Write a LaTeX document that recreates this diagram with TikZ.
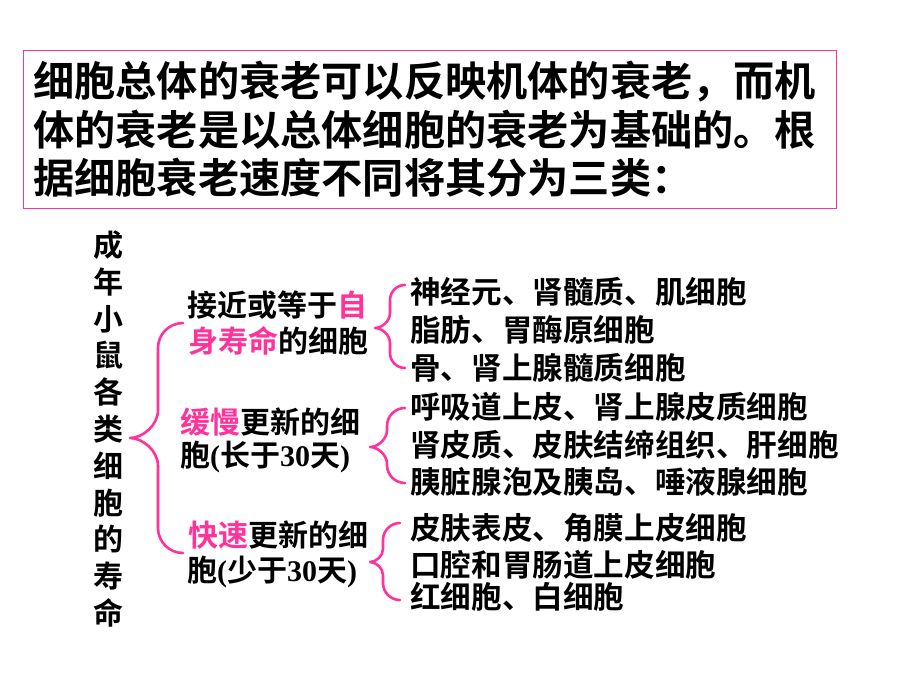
\documentclass[tikz,border=0pt]{standalone}
\usepackage{fontspec}
\newfontfamily\cjk[BoldFont={* Bold}]{Noto Sans CJK SC}
\newfontfamily\ser{Liberation Serif}
\definecolor{pk}{HTML}{FF3399}
\tikzset{
  bigtext/.style={font=\cjk\bfseries\fontsize{41.2}{48}\selectfont, anchor=west, inner sep=0pt},
  midtext/.style={font=\cjk\bfseries\fontsize{30}{36}\selectfont, anchor=west, inner sep=0pt},
  righttext/.style={font=\cjk\bfseries\fontsize{30.6}{36}\selectfont, anchor=west, inner sep=0pt},
  bracestyle/.style={draw=pk, line width=2.6pt, line cap=round, line join=round},
}
\newcommand\mybrace[6]{%
\draw[bracestyle] (#1,#4) .. controls ({#2+0.448*(#1-#2)},#4) and (#2,{#4+0.448*(#1-#2)}) .. (#2,{#4+(#1-#2)})
 -- (#2,{#5-(#2-#3)}) .. controls (#2,{#5-0.448*(#2-#3)}) and ({#3+0.448*(#2-#3)},#5) .. (#3,#5)
 .. controls ({#3+0.448*(#2-#3)},#5) and (#2,{#5+0.448*(#2-#3)}) .. (#2,{#5+(#2-#3)})
 -- (#2,{#6-(#1-#2)}) .. controls (#2,{#6-0.448*(#1-#2)}) and ({#2+0.448*(#1-#2)},#6) .. (#1,#6);}
\begin{document}
\begin{tikzpicture}[x=1pt,y=-1pt]
\path[use as bounding box, fill=white] (0,0) rectangle (920,690);
% top box
\node[draw=pk, line width=1.3pt, minimum width=813pt, minimum height=158pt, anchor=north west, inner sep=0pt] (box) at (23,50) {};
\node[bigtext] (t1) at (33,82) {细胞总体的衰老可以反映机体的衰老，而机};
\node[bigtext] (t2) at (33,130) {体的衰老是以总体细胞的衰老为基础的。根};
\node[bigtext] (t3) at (33,178) {据细胞衰老速度不同将其分为三类：};
% vertical title
\node[font=\cjk\bfseries\fontsize{30}{36.8}\selectfont, align=center, inner sep=0pt] (title) at (108,429)
  {成\\年\\小\\鼠\\各\\类\\细\\胞\\的\\寿\\命};
% middle
\node[midtext] (m1a) at (187,305) {接近或等于{\color{pk}自}};
\node[midtext] (m1b) at (188,341) {{\color{pk}身寿命}的细胞};
\node[midtext] (m2a) at (180,422) {{\color{pk}缓慢}更新的细};
\node[midtext] (m2b) at (180,457) {胞{\ser(}长于{\ser 30}天{\ser)}};
\node[midtext] (m3a) at (188,535) {{\color{pk}快速}更新的细};
\node[midtext] (m3b) at (187,572) {胞{\ser(}少于{\ser 30}天{\ser)}};
% right
\node[righttext] (r1) at (410,292) {神经元、肾髓质、肌细胞};
\node[righttext] (r2) at (410,330) {脂肪、胃酶原细胞};
\node[righttext] (r3) at (410,368) {骨、肾上腺髓质细胞};
\node[righttext] (r4) at (410,407) {呼吸道上皮、肾上腺皮质细胞};
\node[righttext] (r5) at (410,445) {肾皮质、皮肤结缔组织、肝细胞};
\node[righttext] (r6) at (410,482) {胰脏腺泡及胰岛、唾液腺细胞};
\node[righttext] (r7) at (410,528) {皮肤表皮、角膜上皮细胞};
\node[righttext] (r8) at (410,565) {口腔和胃肠道上皮细胞};
\node[righttext] (r9) at (410,597) {红细胞、白细胞};
% braces
\mybrace{183}{158}{130}{323}{438}{553}
\mybrace{405}{390}{375}{285}{328}{368}
\mybrace{405}{387}{370}{408}{447}{483}
\mybrace{400}{383}{370}{523}{562}{600}
\end{tikzpicture}
\end{document}
